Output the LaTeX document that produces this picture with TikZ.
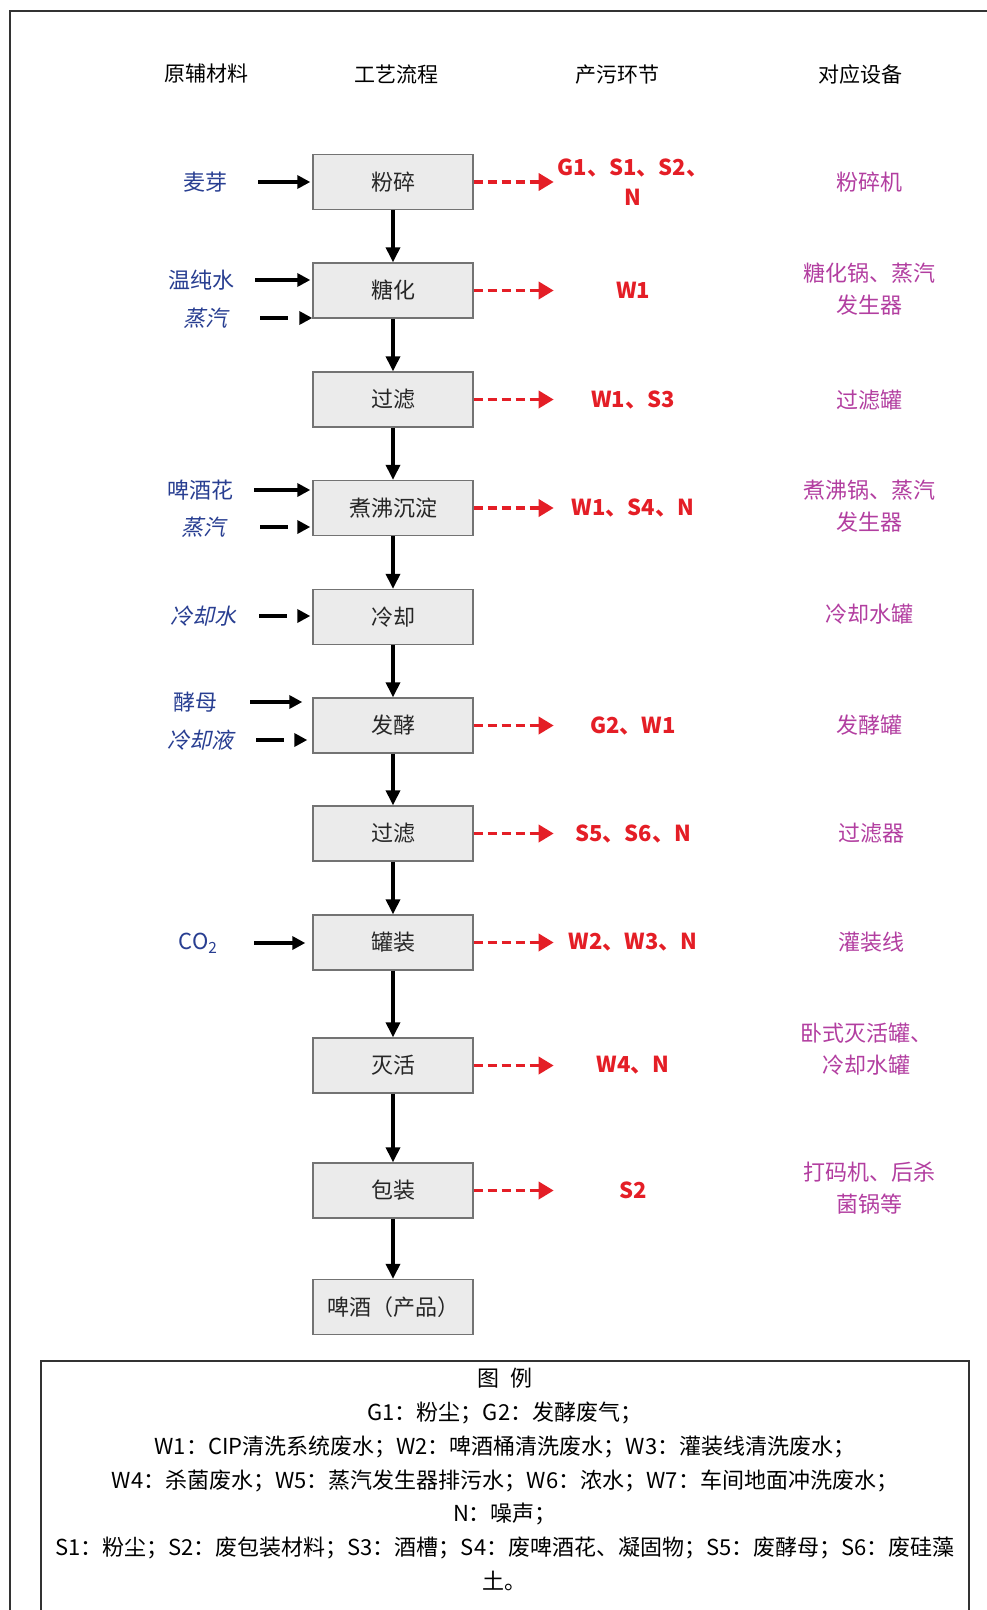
\documentclass[tikz,border=0pt]{standalone}
\usepackage{fontspec}
\setmainfont{Noto Sans CJK SC}
\newfontfamily\slantfont[FakeSlant=0.22]{Noto Sans CJK SC}
\usepackage{tikz}
\usetikzlibrary{arrows.meta}
\definecolor{feedBlue}{RGB}{40,62,145}
\definecolor{wasteRed}{RGB}{228,30,38}
\definecolor{devMagenta}{RGB}{178,62,160}
\definecolor{boxGray}{RGB}{235,235,235}

\begin{document}
\begin{tikzpicture}[x=1pt, y=-1pt,
  proc/.style={draw=black!55, fill=boxGray, line width=1.4pt, minimum width=160pt, minimum height=55pt, inner sep=0, text=black!85},
  flow/.style={-{Triangle[length=15pt,width=14pt]}, line width=3.5pt, draw=black},
  feed/.style={-{Triangle[length=13pt,width=13pt]}, line width=3.5pt, draw=black, shorten >=2pt},
  feedDash/.style={feed, dash pattern=on 28pt off 20pt, shorten >=0pt},
  waste/.style={-{Triangle[length=15pt,width=17pt]}, line width=3.5pt, draw=wasteRed, dash pattern=on 9pt off 5pt},
  head/.style={node font=\fontsize{21}{26}\selectfont},
  inLabel/.style={text=feedBlue},
  inSlant/.style={text=feedBlue, node font=\fontsize{22}{28}\slantfont},
  outLabel/.style={text=wasteRed, align=center, node font=\fontsize{22}{30}\selectfont\bfseries},
  devLabel/.style={text=devMagenta, align=center, node font=\fontsize{22}{32}\selectfont},
  note/.style={anchor=north, align=center, inner sep=0, node font=\fontsize{22}{33.8}\selectfont},
  frame/.style={line width=2pt, draw=black!80},
  node font=\fontsize{22}{28}\selectfont]

  \useasboundingbox (0,0) rectangle (987,1610);
  \draw [frame] (10,1610) -- (10,11) -- (987,11);

  % column heads
  \node[head] (headRaw)   at (206,74) {原辅材料};
  \node[head] (headProc)  at (396,74) {工艺流程};
  \node[head] (headWaste) at (617,75) {产污环节};
  \node[head] (headDev)   at (860,75) {对应设备};

  % process steps
  \node[proc] (stepMill)    at (393,182)    {粉碎};
  \node[proc] (stepMash)    at (393,290.5)  {糖化};
  \node[proc] (stepFilterA) at (393,399.5)  {过滤};
  \node[proc] (stepBoil)    at (393,508)    {煮沸沉淀};
  \node[proc] (stepCool)    at (393,617)    {冷却};
  \node[proc] (stepFerment) at (393,725.5)  {发酵};
  \node[proc] (stepFilterB) at (393,833.5)  {过滤};
  \node[proc] (stepFill)    at (393,942.5)  {罐装};
  \node[proc] (stepKill)    at (393,1065.5) {灭活};
  \node[proc] (stepPack)    at (393,1190.5) {包装};
  \node[proc] (stepBeer)    at (393,1307)   {啤酒（产品）};

  \draw [flow] (stepMill)    -- (stepMash);
  \draw [flow] (stepMash)    -- (stepFilterA);
  \draw [flow] (stepFilterA) -- (stepBoil);
  \draw [flow] (stepBoil)    -- (stepCool);
  \draw [flow] (stepCool)    -- (stepFerment);
  \draw [flow] (stepFerment) -- (stepFilterB);
  \draw [flow] (stepFilterB) -- (stepFill);
  \draw [flow] (stepFill)    -- (stepKill);
  \draw [flow] (stepKill)    -- (stepPack);
  \draw [flow] (stepPack)    -- (stepBeer);

  % raw materials
  \node[inLabel] (inMalt)    at (205,182) {麦芽};
  \node[inLabel] (inWater)   at (201,280) {温纯水};
  \node[inSlant] (inSteamA)  at (205,318) {蒸汽};
  \node[inLabel] (inHops)    at (200,490) {啤酒花};
  \node[inSlant] (inSteamB)  at (203,527) {蒸汽};
  \node[inSlant] (inCool)    at (203,616) {冷却水};
  \node[inLabel] (inYeast)   at (195,702) {酵母};
  \node[inSlant] (inCoolant) at (200,740) {冷却液};
  \node[inLabel] (inCO)      at (198,943) {CO\textsubscript{2}};

  \draw [feed]     ([xshift=-54pt]stepMill.west |- inMalt.center)       -- (stepMill.west |- inMalt.center);
  \draw [feed]     ([xshift=-57pt]stepMash.west |- inWater.center)      -- (stepMash.west |- inWater.center);
  \draw [feedDash] ([xshift=-52pt]stepMash.west |- inSteamA.center)     -- (stepMash.west |- inSteamA.center);
  \draw [feed]     ([xshift=-58pt]stepBoil.west |- inHops.center)       -- (stepBoil.west |- inHops.center);
  \draw [feedDash] ([xshift=-52pt]stepBoil.west |- inSteamB.center)     -- ([xshift=-2pt]stepBoil.west |- inSteamB.center);
  \draw [feedDash] ([xshift=-53pt]stepCool.west |- inCool.center)       -- ([xshift=-2pt]stepCool.west |- inCool.center);
  \draw [feed]     ([xshift=-62pt]stepFerment.west |- inYeast.center)   -- ([xshift=-8pt]stepFerment.west |- inYeast.center);
  \draw [feedDash] ([xshift=-56pt]stepFerment.west |- inCoolant.center) -- ([xshift=-5pt]stepFerment.west |- inCoolant.center);
  \draw [feed]     ([xshift=-58pt]stepFill.west |- inCO.center)         -- ([xshift=-5pt]stepFill.west |- inCO.center);

  % pollution outputs
  \node[outLabel] (outMill)    at (633,182)    {G1、S1、S2、\\N};
  \node[outLabel] (outMash)    at (633,290.5)  {W1};
  \node[outLabel] (outFilterA) at (633,399.5)  {W1、S3};
  \node[outLabel] (outBoil)    at (633,508)    {W1、S4、N};
  \node[outLabel] (outFerment) at (633,725.5)  {G2、W1};
  \node[outLabel] (outFilterB) at (633,833.5)  {S5、S6、N};
  \node[outLabel] (outFill)    at (633,942.5)  {W2、W3、N};
  \node[outLabel] (outKill)    at (633,1065.5) {W4、N};
  \node[outLabel] (outPack)    at (633,1190.5) {S2};

  \draw [waste] (stepMill.east)    -- ++(80,0);
  \draw [waste] (stepMash.east)    -- ++(80,0);
  \draw [waste] (stepFilterA.east) -- ++(80,0);
  \draw [waste] (stepBoil.east)    -- ++(80,0);
  \draw [waste] (stepFerment.east) -- ++(80,0);
  \draw [waste] (stepFilterB.east) -- ++(80,0);
  \draw [waste] (stepFill.east)    -- ++(80,0);
  \draw [waste] (stepKill.east)    -- ++(80,0);
  \draw [waste] (stepPack.east)    -- ++(80,0);

  % equipment
  \node[devLabel] (devMill)    at (869,182)  {粉碎机};
  \node[devLabel] (devMash)    at (869,289)  {糖化锅、蒸汽\\发生器};
  \node[devLabel] (devFilterA) at (869,400)  {过滤罐};
  \node[devLabel] (devBoil)    at (869,506)  {煮沸锅、蒸汽\\发生器};
  \node[devLabel] (devCool)    at (869,614)  {冷却水罐};
  \node[devLabel] (devFerment) at (869,725)  {发酵罐};
  \node[devLabel] (devFilterB) at (871,833)  {过滤器};
  \node[devLabel] (devFill)    at (871,942)  {灌装线};
  \node[devLabel] (devKill)    at (866,1049) {卧式灭活罐、\\冷却水罐};
  \node[devLabel] (devPack)    at (869,1188) {打码机、后杀\\菌锅等};

  % legend
  \draw [frame] (41,1610) -- (41,1361) -- (969,1361) -- (969,1610);
  \node[note] (legendText) at (505,1368) {图\hspace{0.5em}例\\
    G1：粉尘；G2：发酵废气；\\
    W1：CIP清洗系统废水；W2：啤酒桶清洗废水；W3：灌装线清洗废水；\\
    W4：杀菌废水；W5：蒸汽发生器排污水；W6：浓水；W7：车间地面冲洗废水；\\
    N：噪声；\\
    S1：粉尘；S2：废包装材料；S3：酒槽；S4：废啤酒花、凝固物；S5：废酵母；S6：废硅藻\\
    土。};
\end{tikzpicture}
\end{document}
